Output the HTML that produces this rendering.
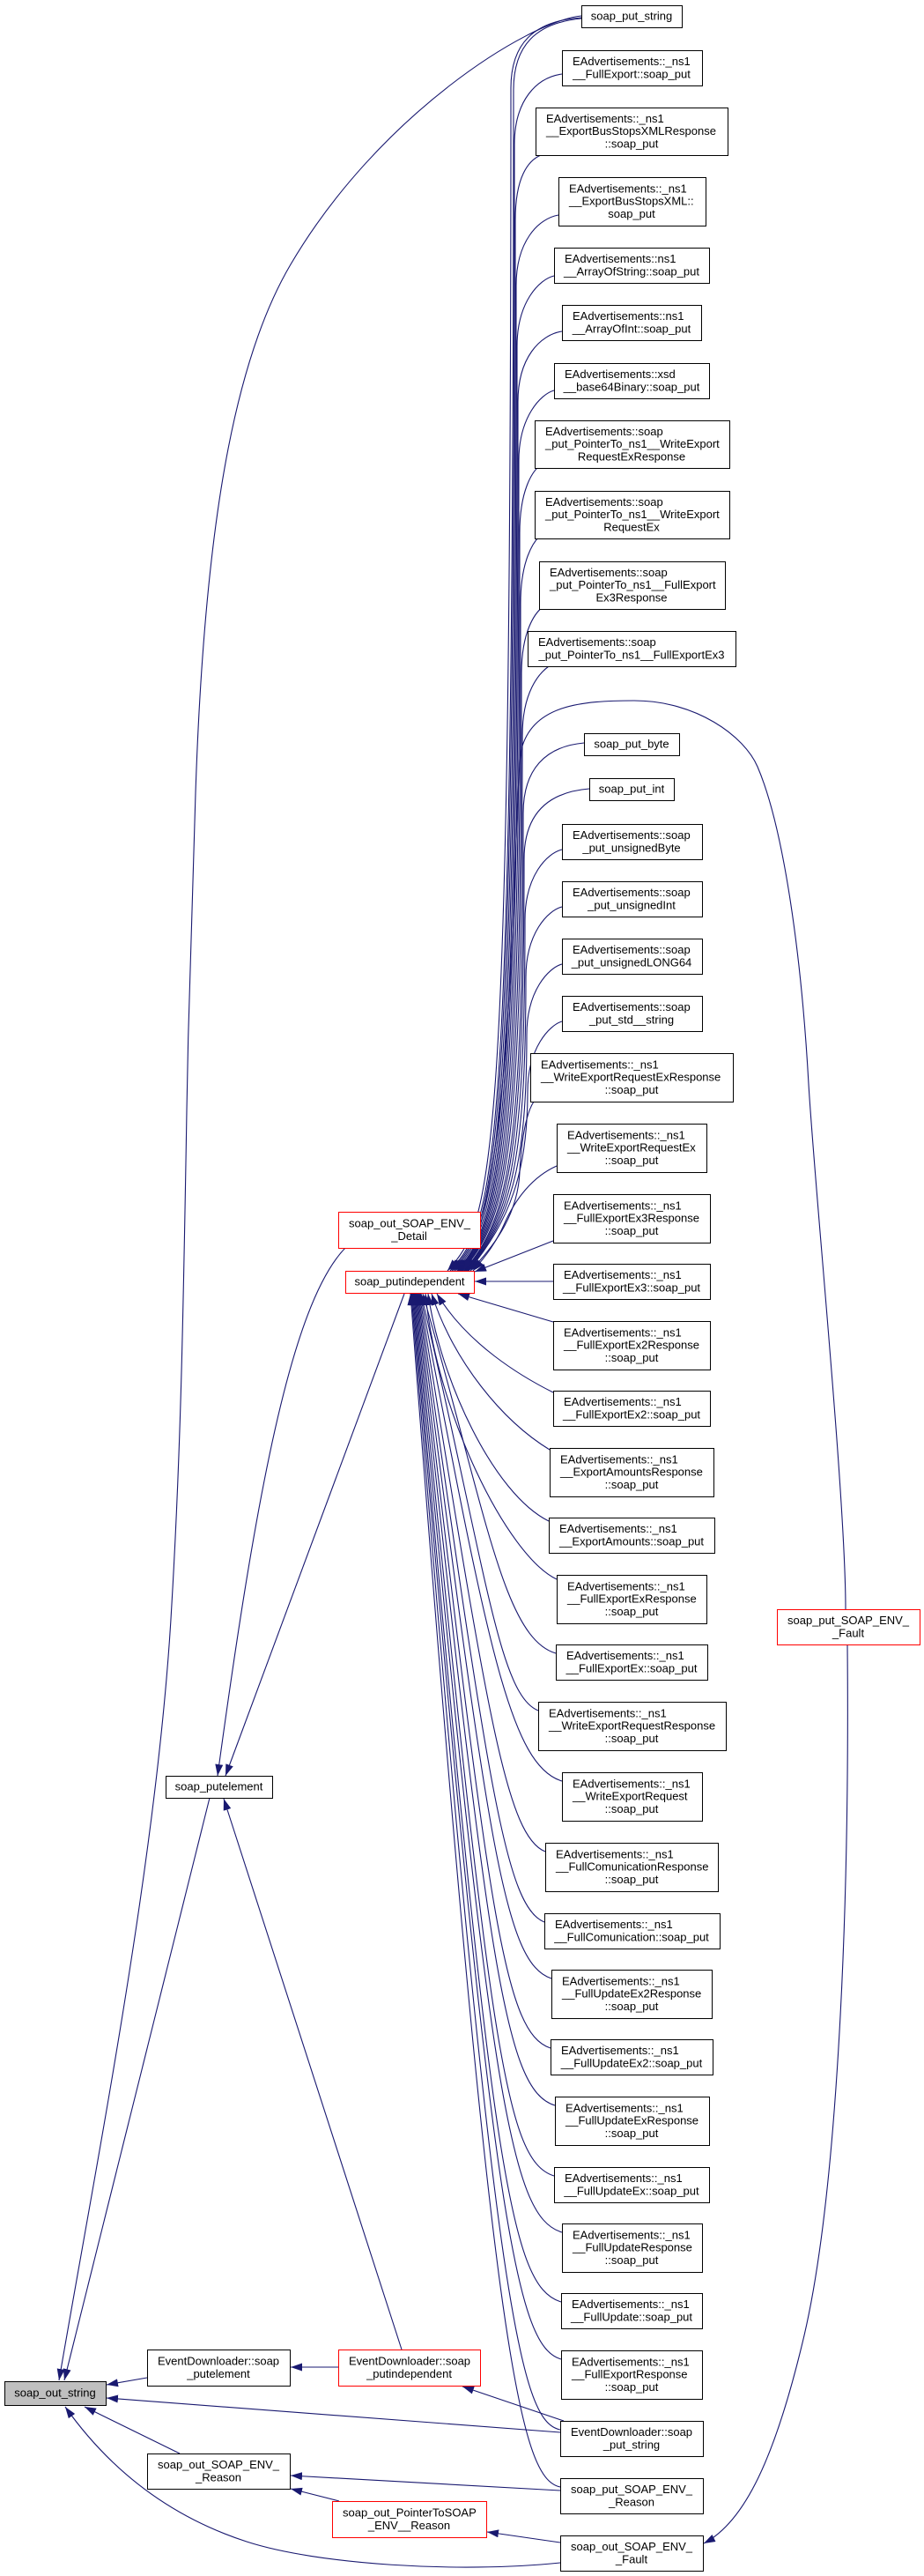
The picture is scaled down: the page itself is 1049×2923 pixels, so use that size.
<!DOCTYPE html>
<html>
<head>
<meta charset="utf-8">
<style>
html,body{margin:0;padding:0;background:#fff;}
svg{display:block;}
text{font-family:"Liberation Sans",Arial,Helvetica,sans-serif;font-size:13px;fill:#000;}
.m{text-anchor:middle;}
#edges path{fill:none;stroke:#191970;stroke-width:1.1;marker-end:url(#a);}
.n{fill:#fff;stroke:#000;stroke-width:1;}
.r{fill:#fff;stroke:#ff0000;stroke-width:1;}
.g{fill:#bfbfbf;stroke:#000;stroke-width:1;}
</style>
</head>
<body>
<svg width="1049" height="2923" viewBox="0 0 1049 2923" xmlns="http://www.w3.org/2000/svg">
<defs>
<marker id="a" markerWidth="13" markerHeight="9" refX="13" refY="4.5" orient="auto" markerUnits="userSpaceOnUse">
<path d="M0,0 L13,4.5 L0,9 z" fill="#191970"/>
</marker>
</defs>
<rect x="0" y="0" width="1049" height="2923" fill="#fff"/>

<g id="edges">
<!-- long edge soap_put_string -> soap_out_string -->
<path d="M660,18 C600,24 430,130 330,300 C265,410 232,600 222,900 C216,1080 214,1150 212,1260 C208,1500 205,1650 195,1820 C180,2100 110,2450 67,2701"/>
<!-- upper group into soap_putindependent -->
<path d="M660,20 C605,24 580,50 580,100 C580,1330 560,1385 508,1442"/>
<path d="M660,21 C608,26 583,52 583,102 C583,1330 563,1385 511,1442"/>
<path d="M638,84 C609,88 584,114 584,164 C584,1330 564,1385 513,1442"/>
<path d="M614,176 C600,182 585,200 585,250 C585,1330 565,1385 515,1442"/>
<path d="M634,244 C611,248 586,274 586,324 C586,1330 566,1385 517,1442"/>
<path d="M629,313 C612,317 587,343 587,393 C587,1330 567,1385 519,1442"/>
<path d="M638,376 C613,380 588,406 588,456 C588,1330 568,1385 520,1442"/>
<path d="M629,443 C614,447 589,473 589,523 C589,1330 569,1385 521,1442"/>
<path d="M612,529 C605,535 590,555 590,605 C590,1330 570,1385 522,1442"/>
<path d="M612,609 C606,615 591,635 591,685 C591,1330 571,1385 523,1442"/>
<path d="M616,689 C608,695 592,715 592,765 C592,1330 572,1385 524,1442"/>
<path d="M623,756 C612,764 593,785 593,835 C593,1330 573,1385 525,1442"/>
<path d="M663,843 C619,847 594,873 594,923 C594,1330 574,1385 527,1442"/>
<path d="M669,895 C620,899 595,925 595,975 C595,1330 575,1385 528,1442"/>
<path d="M638,964 C621,968 596,994 596,1044 C596,1330 576,1385 529,1442"/>
<path d="M638,1029 C622,1033 597,1059 597,1109 C597,1330 577,1385 530,1442"/>
<path d="M638,1094 C623,1098 598,1124 598,1174 C598,1330 578,1385 531,1442"/>
<path d="M638,1159 C624,1163 599,1189 599,1239 C599,1330 579,1385 532,1442"/>
<path d="M606,1250 C598,1262 592,1290 590,1330 C588,1375 565,1410 534,1442"/>
<path d="M632,1323 C605,1335 585,1360 572,1390 C563,1410 552,1425 537,1442"/>
<!-- soap_put_SOAP_ENV__Fault -> soap_putindependent -->
<path d="M960,1826 C960,1700 925,1350 918,1230 C910,1086 890,940 860,870 C845,835 790,795 720,795 C660,795 605,800 592,850 C582,900 588,1330 526,1442"/>
<!-- near boxes -->
<path d="M628,1408 L539,1443"/>
<path d="M628,1454 L539,1454"/>
<path d="M628,1500 L520,1468"/>
<path d="M628,1580 C592,1562 530,1525 496,1468"/>
<path d="M624,1645 C570,1612 515,1545 490,1468"/>
<path d="M623,1726 C560,1695 500,1565 486,1468"/>
<path d="M632,1792 C575,1765 495,1600 483,1468"/>
<!-- lower group -->
<path d="M631,1876 C571,1858 552,1716 480,1468"/>
<path d="M611,1941 C566,1923 552,1781 478,1468"/>
<path d="M638,2021 C578,2003 553,1861 477,1468"/>
<path d="M619,2101 C574,2083 553,1941 476,1468"/>
<path d="M618,2181 C573,2163 554,2021 475,1468"/>
<path d="M626,2245 C571,2227 554,2085 474,1468"/>
<path d="M625,2324 C570,2306 555,2164 473,1468"/>
<path d="M630,2389 C572,2371 555,2229 472,1468"/>
<path d="M629,2469 C571,2451 556,2309 471,1468"/>
<path d="M638,2533 C578,2515 556,2373 470,1468"/>
<path d="M637,2612 C577,2594 557,2452 469,1468"/>
<path d="M637,2677 C585,2662 558,2517 468,1468"/>
<path d="M636,2757 C590,2748 560,2620 467,1468"/>
<path d="M636,2822 C590,2812 558,2680 466,1468"/>
<!-- into soap_putelement -->
<path d="M459,1468 L256,2015"/>
<path d="M392,1416 C330,1480 290,1700 247,2015"/>
<path d="M456,2666 L254,2041"/>
<!-- soap_putelement -> soap_out_string -->
<path d="M238,2040 L73,2701"/>
<!-- bottom area -->
<path d="M384,2686 L330,2686"/>
<path d="M640,2747 L525,2708"/>
<path d="M636,2760 L121,2721"/>
<path d="M167,2698 L121,2706"/>
<path d="M204,2784 L96,2731"/>
<path d="M636,2826 L330,2809"/>
<path d="M385,2838 L330,2824"/>
<path d="M636,2885 L553,2873"/>
<path d="M636,2908 C520,2920 360,2910 280,2884 C200,2858 130,2810 74,2731"/>
<path d="M962,1866 C965,2200 948,2500 913,2650 C880,2790 845,2862 799,2886"/>
</g>

<!-- Rank 3 nodes -->
<rect class="n" x="660.5" y="6.5" width="114" height="25"/>
<text class="m" x="717" y="22.6">soap_put_string</text>

<rect class="n" x="638.5" y="57.5" width="159" height="40"/>
<text x="650" y="74">EAdvertisements::_ns1</text>
<text class="m" x="717" y="88.3">__FullExport::soap_put</text>

<rect class="n" x="608.5" y="122.5" width="218" height="54"/>
<text x="620" y="138.9">EAdvertisements::_ns1</text>
<text x="620" y="153.2">__ExportBusStopsXMLResponse</text>
<text class="m" x="717" y="167.5">::soap_put</text>

<rect class="n" x="634.5" y="201.5" width="167" height="55"/>
<text x="646" y="218.4">EAdvertisements::_ns1</text>
<text x="646" y="232.7">__ExportBusStopsXML::</text>
<text class="m" x="717" y="247">soap_put</text>

<rect class="n" x="629.5" y="281.5" width="176" height="40"/>
<text x="641" y="298">EAdvertisements::ns1</text>
<text class="m" x="717" y="312.3">__ArrayOfString::soap_put</text>

<rect class="n" x="638.5" y="346.5" width="158" height="40"/>
<text x="650" y="363">EAdvertisements::ns1</text>
<text class="m" x="717" y="377.3">__ArrayOfInt::soap_put</text>

<rect class="n" x="629.5" y="412.5" width="176" height="40"/>
<text x="641" y="429">EAdvertisements::xsd</text>
<text class="m" x="717" y="443.3">__base64Binary::soap_put</text>

<rect class="n" x="607.5" y="477.5" width="221" height="54"/>
<text x="619" y="493.9">EAdvertisements::soap</text>
<text x="619" y="508.2">_put_PointerTo_ns1__WriteExport</text>
<text class="m" x="717" y="522.5">RequestExResponse</text>

<rect class="n" x="607.5" y="557.5" width="221" height="54"/>
<text x="619" y="573.9">EAdvertisements::soap</text>
<text x="619" y="588.2">_put_PointerTo_ns1__WriteExport</text>
<text class="m" x="717" y="602.5">RequestEx</text>

<rect class="n" x="612.5" y="637.5" width="211" height="54"/>
<text x="624" y="653.9">EAdvertisements::soap</text>
<text x="624" y="668.2">_put_PointerTo_ns1__FullExport</text>
<text class="m" x="717" y="682.5">Ex3Response</text>

<rect class="n" x="599.5" y="716.5" width="236" height="40"/>
<text x="611" y="733">EAdvertisements::soap</text>
<text class="m" x="717" y="747.3">_put_PointerTo_ns1__FullExportEx3</text>

<rect class="n" x="663.5" y="832.5" width="108" height="25"/>
<text class="m" x="717" y="848.7">soap_put_byte</text>

<rect class="n" x="669.5" y="883.5" width="96" height="25"/>
<text class="m" x="717" y="899.7">soap_put_int</text>

<rect class="n" x="638.5" y="935.5" width="159" height="40"/>
<text x="650" y="952">EAdvertisements::soap</text>
<text class="m" x="717" y="966.3">_put_unsignedByte</text>

<rect class="n" x="638.5" y="1000.5" width="159" height="40"/>
<text x="650" y="1017">EAdvertisements::soap</text>
<text class="m" x="717" y="1031.3">_put_unsignedInt</text>

<rect class="n" x="638.5" y="1065.5" width="159" height="40"/>
<text x="650" y="1082">EAdvertisements::soap</text>
<text class="m" x="717" y="1096.3">_put_unsignedLONG64</text>

<rect class="n" x="638.5" y="1130.5" width="159" height="40"/>
<text x="650" y="1147">EAdvertisements::soap</text>
<text class="m" x="717" y="1161.3">_put_std__string</text>

<rect class="n" x="602.5" y="1195.5" width="230" height="55"/>
<text x="614" y="1212.4">EAdvertisements::_ns1</text>
<text x="614" y="1226.7">__WriteExportRequestExResponse</text>
<text class="m" x="717" y="1241">::soap_put</text>

<rect class="n" x="632.5" y="1275.5" width="170" height="55"/>
<text x="644" y="1292.4">EAdvertisements::_ns1</text>
<text x="644" y="1306.7">__WriteExportRequestEx</text>
<text class="m" x="717" y="1321">::soap_put</text>

<rect class="n" x="628.5" y="1355.5" width="178" height="55"/>
<text x="640" y="1372.4">EAdvertisements::_ns1</text>
<text x="640" y="1386.7">__FullExportEx3Response</text>
<text class="m" x="717" y="1401">::soap_put</text>

<rect class="n" x="628.5" y="1434.5" width="178" height="40"/>
<text x="640" y="1451">EAdvertisements::_ns1</text>
<text class="m" x="717" y="1465.3">__FullExportEx3::soap_put</text>

<rect class="n" x="628.5" y="1499.5" width="178" height="55"/>
<text x="640" y="1516.4">EAdvertisements::_ns1</text>
<text x="640" y="1530.7">__FullExportEx2Response</text>
<text class="m" x="717" y="1545">::soap_put</text>

<rect class="n" x="628.5" y="1578.5" width="178" height="40"/>
<text x="640" y="1595">EAdvertisements::_ns1</text>
<text class="m" x="717" y="1609.3">__FullExportEx2::soap_put</text>

<rect class="n" x="624.5" y="1643.5" width="186" height="55"/>
<text x="636" y="1660.4">EAdvertisements::_ns1</text>
<text x="636" y="1674.7">__ExportAmountsResponse</text>
<text class="m" x="717" y="1689">::soap_put</text>

<rect class="n" x="623.5" y="1722.5" width="188" height="40"/>
<text x="635" y="1739">EAdvertisements::_ns1</text>
<text class="m" x="717" y="1753.3">__ExportAmounts::soap_put</text>

<rect class="n" x="632.5" y="1787.5" width="170" height="55"/>
<text x="644" y="1804.4">EAdvertisements::_ns1</text>
<text x="644" y="1818.7">__FullExportExResponse</text>
<text class="m" x="717" y="1833">::soap_put</text>

<rect class="n" x="631.5" y="1866.5" width="172" height="40"/>
<text x="643" y="1883">EAdvertisements::_ns1</text>
<text class="m" x="717" y="1897.3">__FullExportEx::soap_put</text>

<rect class="n" x="611.5" y="1931.5" width="213" height="55"/>
<text x="623" y="1948.4">EAdvertisements::_ns1</text>
<text x="623" y="1962.7">__WriteExportRequestResponse</text>
<text class="m" x="717" y="1977">::soap_put</text>

<rect class="n" x="638.5" y="2011.5" width="159" height="55"/>
<text x="650" y="2028.4">EAdvertisements::_ns1</text>
<text x="650" y="2042.7">__WriteExportRequest</text>
<text class="m" x="717" y="2057">::soap_put</text>

<rect class="n" x="619.5" y="2091.5" width="196" height="55"/>
<text x="631" y="2108.4">EAdvertisements::_ns1</text>
<text x="631" y="2122.7">__FullComunicationResponse</text>
<text class="m" x="717" y="2137">::soap_put</text>

<rect class="n" x="618.5" y="2171.5" width="199" height="40"/>
<text x="630" y="2188">EAdvertisements::_ns1</text>
<text class="m" x="717" y="2202.3">__FullComunication::soap_put</text>

<rect class="n" x="626.5" y="2235.5" width="182" height="55"/>
<text x="638" y="2252.4">EAdvertisements::_ns1</text>
<text x="638" y="2266.7">__FullUpdateEx2Response</text>
<text class="m" x="717" y="2281">::soap_put</text>

<rect class="n" x="625.5" y="2314.5" width="184" height="40"/>
<text x="637" y="2331">EAdvertisements::_ns1</text>
<text class="m" x="717" y="2345.3">__FullUpdateEx2::soap_put</text>

<rect class="n" x="630.5" y="2379.5" width="175" height="55"/>
<text x="642" y="2396.4">EAdvertisements::_ns1</text>
<text x="642" y="2410.7">__FullUpdateExResponse</text>
<text class="m" x="717" y="2425">::soap_put</text>

<rect class="n" x="629.5" y="2459.5" width="176" height="40"/>
<text x="641" y="2476">EAdvertisements::_ns1</text>
<text class="m" x="717" y="2490.3">__FullUpdateEx::soap_put</text>

<rect class="n" x="638.5" y="2523.5" width="159" height="55"/>
<text x="650" y="2540.4">EAdvertisements::_ns1</text>
<text x="650" y="2554.7">__FullUpdateResponse</text>
<text class="m" x="717" y="2569">::soap_put</text>

<rect class="n" x="637.5" y="2602.5" width="160" height="40"/>
<text x="649" y="2619">EAdvertisements::_ns1</text>
<text class="m" x="717" y="2633.3">__FullUpdate::soap_put</text>

<rect class="n" x="637.5" y="2667.5" width="160" height="55"/>
<text x="649" y="2684.4">EAdvertisements::_ns1</text>
<text x="649" y="2698.7">__FullExportResponse</text>
<text class="m" x="717" y="2713">::soap_put</text>

<rect class="n" x="636.5" y="2747.5" width="162" height="40"/>
<text x="648" y="2764">EventDownloader::soap</text>
<text class="m" x="717" y="2778.3">_put_string</text>

<rect class="n" x="636.5" y="2812.5" width="162" height="40"/>
<text x="648" y="2829">soap_put_SOAP_ENV_</text>
<text class="m" x="717" y="2843.3">_Reason</text>

<rect class="n" x="636.5" y="2877.5" width="162" height="40"/>
<text x="648" y="2894">soap_out_SOAP_ENV_</text>
<text class="m" x="717" y="2908.3">_Fault</text>

<!-- Rank 4 -->
<rect class="r" x="882.5" y="1826.5" width="162" height="40"/>
<text x="894" y="1843">soap_put_SOAP_ENV_</text>
<text class="m" x="963" y="1857.3">_Fault</text>

<!-- Rank 2 -->
<rect class="r" x="384.5" y="1375.5" width="161" height="41"/>
<text x="396" y="1392.5">soap_out_SOAP_ENV_</text>
<text class="m" x="464.5" y="1406.8">_Detail</text>

<rect class="r" x="392.5" y="1442.5" width="146" height="25"/>
<text class="m" x="465" y="1458.7">soap_putindependent</text>

<rect class="r" x="384.5" y="2666.5" width="161" height="41"/>
<text x="396" y="2683.5">EventDownloader::soap</text>
<text class="m" x="464.5" y="2697.8">_putindependent</text>

<rect class="r" x="377.5" y="2838.5" width="175" height="41"/>
<text x="389" y="2855.5">soap_out_PointerToSOAP</text>
<text class="m" x="464.5" y="2869.8">_ENV__Reason</text>

<!-- Rank 1 -->
<rect class="n" x="188.5" y="2015.5" width="121" height="25"/>
<text class="m" x="248.5" y="2031.7">soap_putelement</text>

<rect class="n" x="167.5" y="2666.5" width="162" height="41"/>
<text x="179" y="2683.5">EventDownloader::soap</text>
<text class="m" x="248" y="2697.8">_putelement</text>

<rect class="n" x="167.5" y="2784.5" width="162" height="40"/>
<text x="179" y="2801">soap_out_SOAP_ENV_</text>
<text class="m" x="248" y="2815.3">_Reason</text>

<!-- Rank 0 -->
<rect class="g" x="5.5" y="2702.5" width="115" height="27"/>
<text class="m" x="62.5" y="2719.7">soap_out_string</text>
</svg>
</body>
</html>
